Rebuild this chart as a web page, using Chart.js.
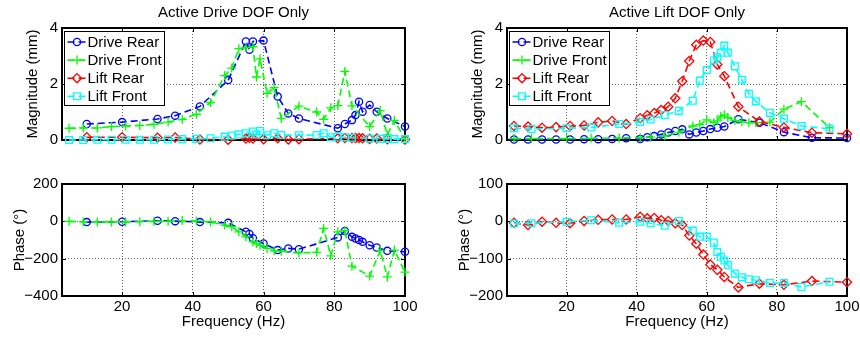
<!DOCTYPE html>
<html>
<head>
<meta charset="utf-8">
<script src="https://cdn.jsdelivr.net/npm/chart.js@4.4.1/dist/chart.umd.min.js"></script>
<style>
  html, body { margin: 0; padding: 0; background: #fff; }
  #wrap { position: relative; width: 860px; height: 337px; background: #fff; }
  #wrap canvas { position: absolute; left: 0; top: 0; }
</style>
</head>
<body>
<div id="wrap">
  <canvas id="c1" width="860" height="337"></canvas>
  <canvas id="c2" width="860" height="337"></canvas>
  <canvas id="c3" width="860" height="337"></canvas>
  <canvas id="c4" width="860" height="337"></canvas>
</div>
<script>
// ---------------- DATA ----------------
const seriesNames = ['Drive Rear', 'Drive Front', 'Lift Rear', 'Lift Front'];
const panelTitles = ['Active Drive DOF Only', 'Active Lift DOF Only'];
const xTicks = [20, 40, 60, 80, 100];
const magTicks = [0, 2, 4];
const phaseTicksDrive = [-400, -200, 0, 200];
const phaseTicksLift = [-200, -100, 0, 100];

// Active Drive DOF (left column)
const freqD_rear  = [10,20,30,35,42,50,55,56,57,60,64,67,70,81,83,85,86,87,88,90,92,95,100];
const freqD_front = [5,9,13,17,21,25,29,33,37,41,45,49,51,53,55,57,58,59,61,63,65,70,75,77,79,81,83,85,90,93,95,97,100];
const magD_driveRear  = [0.57,0.64,0.75,0.87,1.2,2.14,3.52,3.22,3.52,3.55,1.55,0.95,0.77,0.42,0.57,0.71,0.89,1.37,1.01,1.25,1.01,0.77,0.48];
const magD_driveFront = [0.42,0.43,0.43,0.48,0.5,0.52,0.56,0.64,0.74,0.92,1.34,2.3,2.57,3.26,3.3,3.33,2.25,2.9,1.67,1.87,0.77,1.21,1.0,0.74,1.15,1.23,2.45,1.22,0.48,1.05,0.18,0.7,0.03];
const magD_liftRear   = [0.1,0.1,0.08,0.09,0.02,0.01,0.05,0.08,0.05,0.03,0.06,0.02,0.03,0.06,0.07,0.07,0.07,0.07,0.06,0.04,0.05,0.03,0.02];
const magD_liftFront  = [0,0,0.01,0.01,0.01,0.01,0.01,0.02,0.03,0.04,0.06,0.12,0.16,0.2,0.24,0.3,0.2,0.32,0.17,0.24,0.18,0.17,0.18,0.24,0.1,0.12,0.1,0.08,0.05,0.04,0.04,0.03,0.03];
const phaseD_driveRear  = [-4,-2,3,1,-4,-8,-56,-68,-90,-119,-154,-145,-149,-86,-52,-83,-92,-100,-110,-128,-140,-158,-163];
const phaseD_driveFront = [0,-3,-3,-3,-3,-2,0,0,4,2,-3,-20,-29,-56,-83,-110,-119,-128,-145,-158,-160,-169,-166,-38,-185,-56,-50,-240,-293,-156,-298,-154,-272];

// Active Lift DOF (right column)
const freqL_rear  = [5,9,13,17,21,25,29,33,37,41,43,45,47,49,51,53,55,57,59,61,63,65,69,75,82,90,100];
const freqL_front = [5,10,20,27,35,41,44,48,52,56,58,60,62,63,64,65,66,68,70,72,74,78,82,87,95];
const magL_driveRear  = [0.02,0.02,0.02,0.02,0.02,0.03,0.03,0.04,0.06,0.04,0.1,0.14,0.2,0.27,0.32,0.38,0.2,0.27,0.32,0.39,0.44,0.48,0.74,0.62,0.28,0.08,0.07];
const magL_driveFront = [0.05,0.05,0.05,0.06,0.07,0.08,0.1,0.15,0.28,0.5,0.55,0.72,0.62,0.68,0.85,0.9,0.8,0.7,0.65,0.62,0.62,0.64,1.1,1.37,0.44];
const magL_liftRear   = [0.5,0.48,0.44,0.46,0.5,0.52,0.63,0.68,0.57,0.78,0.88,0.96,1.07,1.19,1.49,2.1,2.82,3.4,3.55,3.5,2.7,2.28,1.19,0.66,0.45,0.26,0.22];
const magL_liftFront  = [0.42,0.39,0.42,0.45,0.57,0.64,0.73,0.89,1.04,1.4,2.12,2.5,2.84,2.95,3.12,3.37,3.12,2.63,2.15,1.65,1.38,0.97,0.76,0.5,0.4];
const phaseL_liftRear  = [-4,-10,-1,-4,-5,1,4,5,5,12,8,9,3,1,-5,-10,-38,-60,-89,-116,-130,-149,-177,-167,-170,-160,-163];
const phaseL_liftFront = [-6,-5,-1,3,-4,-1,-5,-12,1,-25,-41,-41,-57,-82,-95,-105,-117,-140,-150,-155,-158,-165,-165,-176,-162];

// ---------------- STYLE ----------------
const FONT = { family: "'Liberation Sans', Arial, Helvetica, sans-serif", size: 15 };
const FONT_CSS = "15px 'Liberation Sans', Arial, Helvetica, sans-serif";
const STY = {
  'Drive Rear':  { color: '#0000ff', pointStyle: 'circle',  radius: 3.6, order: 4 },
  'Drive Front': { color: '#00ff00', pointStyle: 'cross',   radius: 4.5, order: 3 },
  'Lift Rear':   { color: '#ff0000', pointStyle: 'rectRot', radius: 4.6, order: 2 },
  'Lift Front':  { color: '#00ffff', pointStyle: 'rect',    radius: 4.8, order: 1 }
};
const DASH = [7, 4];

function pts(xs, ys) { return xs.map((x, i) => ({ x: x, y: ys[i] })); }
function ds(name, xs, ys) {
  const s = STY[name];
  return {
    label: name, data: pts(xs, ys),
    borderColor: s.color, backgroundColor: 'rgba(0,0,0,0)',
    borderWidth: 1.6, borderDash: DASH, tension: 0, fill: false,
    pointStyle: s.pointStyle, pointRadius: s.radius, pointHoverRadius: s.radius,
    pointBorderWidth: 1.3, pointBorderColor: s.color, pointBackgroundColor: 'rgba(0,0,0,0)',
    order: s.order, clip: false
  };
}

function drawMarker(ctx, style, x, y, r, color) {
  ctx.save();
  ctx.strokeStyle = color; ctx.lineWidth = 1.3; ctx.setLineDash([]);
  ctx.beginPath();
  if (style === 'circle') ctx.arc(x, y, r, 0, Math.PI * 2);
  else if (style === 'cross') { ctx.moveTo(x - r, y); ctx.lineTo(x + r, y); ctx.moveTo(x, y - r); ctx.lineTo(x, y + r); }
  else if (style === 'rectRot') { ctx.moveTo(x, y - r); ctx.lineTo(x + r, y); ctx.lineTo(x, y + r); ctx.lineTo(x - r, y); ctx.closePath(); }
  else if (style === 'rect') { const h = r * Math.SQRT1_2; ctx.rect(x - h, y - h, 2 * h, 2 * h); }
  ctx.stroke();
  ctx.restore();
}

const axesPlugin = {
  id: 'maxes',
  beforeDatasetsDraw(chart, args, opts) {
    const { ctx, chartArea: a, scales } = chart;
    const x = scales.x, y = scales.y;
    ctx.save();
    ctx.strokeStyle = '#000';
    ctx.lineWidth = 1;
    ctx.setLineDash([]);
    const tl = 4;
    ctx.beginPath();
    x.ticks.forEach(t => {
      const px = Math.round(x.getPixelForValue(t.value)) + 0.5;
      ctx.moveTo(px, a.bottom); ctx.lineTo(px, a.bottom - tl);
      ctx.moveTo(px, a.top); ctx.lineTo(px, a.top + tl);
    });
    y.ticks.forEach(t => {
      const py = Math.round(y.getPixelForValue(t.value)) + 0.5;
      ctx.moveTo(a.left, py); ctx.lineTo(a.left + tl, py);
      ctx.moveTo(a.right, py); ctx.lineTo(a.right - tl, py);
    });
    ctx.stroke();
    ctx.lineWidth = 2;
    ctx.strokeRect(a.left, a.top, a.right - a.left, a.bottom - a.top);
    ctx.restore();
  },
  afterDraw(chart, args, opts) {
    const { ctx, chartArea: a } = chart;
    ctx.save();
    if (opts.title) {
      ctx.font = FONT_CSS; ctx.fillStyle = '#000';
      ctx.textAlign = 'center'; ctx.textBaseline = 'alphabetic';
      ctx.fillText(opts.title, (a.left + a.right) / 2, 17);
    }
    if (opts.legend) {
      const bx = a.left + 2.5, by = a.top + 3.5, bw = 100, bh = 74;
      ctx.fillStyle = '#fff';
      ctx.fillRect(bx, by, bw, bh);
      ctx.strokeStyle = '#000'; ctx.lineWidth = 1; ctx.setLineDash([]);
      ctx.strokeRect(bx, by, bw, bh);
      chart.data.datasets.forEach((d, i) => {
        const s = STY[d.label];
        const ry = by + 10.5 + i * 18.1;
        ctx.save();
        ctx.strokeStyle = s.color; ctx.lineWidth = 1.6; ctx.setLineDash(DASH);
        ctx.beginPath(); ctx.moveTo(bx + 3, ry); ctx.lineTo(bx + 21, ry); ctx.stroke();
        ctx.restore();
        drawMarker(ctx, s.pointStyle, bx + 12.5, ry, s.radius, s.color);
        ctx.font = FONT_CSS; ctx.fillStyle = '#000';
        ctx.textAlign = 'left'; ctx.textBaseline = 'middle';
        ctx.fillText(d.label, bx + 23, ry + 0.5);
      });
    }
    ctx.restore();
  }
};

const minusFmt = v => String(v).replace('-', '\u2212');

function makeChart(id, cfg) {
  const isBottom = cfg.bottom;
  return new Chart(document.getElementById(id), {
    type: 'line',
    data: { datasets: cfg.datasets },
    plugins: [axesPlugin],
    options: {
      responsive: false, animation: false, devicePixelRatio: 1,
      events: [],
      layout: { padding: cfg.padding },
      plugins: {
        legend: { display: false }, tooltip: { enabled: false }, title: { display: false },
        maxes: { title: cfg.title || null, legend: !!cfg.legend }
      },
      scales: {
        x: {
          type: 'linear', min: 3, max: 100,
          afterBuildTicks: s => { s.ticks = xTicks.map(v => ({ value: v })); },
          afterFit: s => { s.height = isBottom ? 41 : 10; s.paddingLeft = 0; s.paddingRight = 0; },
          ticks: { display: isBottom, padding: 2, font: FONT, color: '#000', maxRotation: 0, autoSkip: false },
          grid: { color: 'rgba(0,0,0,0.6)', lineWidth: 1, drawTicks: false },
          border: { display: false, dash: [1, 2] },
          title: { display: isBottom, text: 'Frequency (Hz)', font: FONT, color: '#000', padding: { top: 0, bottom: 6 } }
        },
        y: {
          type: 'linear', min: cfg.yTicks[0], max: cfg.yTicks[cfg.yTicks.length - 1],
          afterBuildTicks: s => { s.ticks = cfg.yTicks.map(v => ({ value: v })); },
          afterFit: s => { s.width = cfg.yWidth; s.paddingTop = 0; s.paddingBottom = 0; },
          ticks: { padding: 4, font: FONT, color: '#000', callback: minusFmt },
          grid: { color: 'rgba(0,0,0,0.6)', lineWidth: 1, drawTicks: false },
          border: { display: false, dash: [1, 2] },
          title: { display: true, text: cfg.yTitle, font: FONT, color: '#000', padding: { top: cfg.yTitlePad, bottom: 0 } }
        }
      }
    }
  });
}

// Top-left: magnitude, drive excitation
makeChart('c1', {
  bottom: false, title: panelTitles[0], legend: true,
  padding: { left: 0, top: 28, right: 455, bottom: 187 },
  yWidth: 62, yTicks: magTicks, yTitle: 'Magnitude (mm)', yTitlePad: 23.5,
  datasets: [
    ds(seriesNames[0], freqD_rear, magD_driveRear),
    ds(seriesNames[1], freqD_front, magD_driveFront),
    ds(seriesNames[2], freqD_rear, magD_liftRear),
    ds(seriesNames[3], freqD_front, magD_liftFront)
  ]
});
// Top-right: magnitude, lift excitation
makeChart('c2', {
  bottom: false, title: panelTitles[1], legend: true,
  padding: { left: 0, top: 28, right: 13, bottom: 187 },
  yWidth: 507, yTicks: magTicks, yTitle: 'Magnitude (mm)', yTitlePad: 468.5,
  datasets: [
    ds(seriesNames[0], freqL_rear, magL_driveRear),
    ds(seriesNames[1], freqL_front, magL_driveFront),
    ds(seriesNames[2], freqL_rear, magL_liftRear),
    ds(seriesNames[3], freqL_front, magL_liftFront)
  ]
});
// Bottom-left: phase, drive excitation
makeChart('c3', {
  bottom: true,
  padding: { left: 0, top: 184, right: 455, bottom: 0 },
  yWidth: 62, yTicks: phaseTicksDrive, yTitle: 'Phase (\u00b0)', yTitlePad: 11,
  datasets: [
    ds(seriesNames[0], freqD_rear, phaseD_driveRear),
    ds(seriesNames[1], freqD_front, phaseD_driveFront)
  ]
});
// Bottom-right: phase, lift excitation
makeChart('c4', {
  bottom: true,
  padding: { left: 0, top: 184, right: 13, bottom: 0 },
  yWidth: 507, yTicks: phaseTicksLift, yTitle: 'Phase (\u00b0)', yTitlePad: 456,
  datasets: [
    ds(seriesNames[2], freqL_rear, phaseL_liftRear),
    ds(seriesNames[3], freqL_front, phaseL_liftFront)
  ]
});
</script>
</body>
</html>
